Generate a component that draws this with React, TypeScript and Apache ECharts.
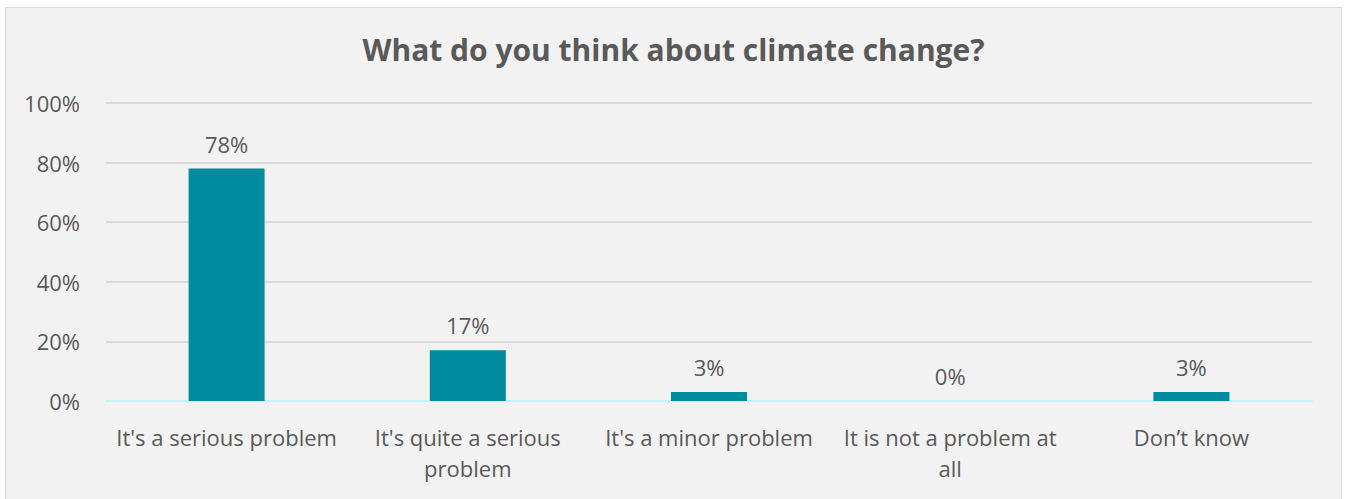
import React, { useEffect, useRef } from "react";
import * as echarts from "echarts";

const titleText = "What do you think about climate change?";
const categories = [
  "It's a serious problem",
  "It's quite a serious\nproblem",
  "It's a minor problem",
  "It is not a problem at\nall",
  "Don\u2019t know",
];
const shares = [78, 17, 3, 0, 3];
const yTicks = { min: 0, max: 100, interval: 20 };

const FONT = "'Open Sans', 'Noto Sans', sans-serif";
const TEXT = "#595959";

export default function App() {
  const ref = useRef<HTMLDivElement>(null);

  useEffect(() => {
    if (!ref.current) return;
    const chart = echarts.init(ref.current, undefined, { renderer: "svg" });
    chart.setOption({
      animation: false,
      backgroundColor: "#f2f2f2",
      textStyle: { fontFamily: FONT },
      title: {
        text: titleText,
        left: "center",
        top: 21,
        textStyle: {
          fontFamily: FONT,
          fontSize: 30,
          fontWeight: "bold",
          color: "#595959",
        },
      },
      grid: { left: 100, right: 29, top: 95, bottom: 99, containLabel: false },
      xAxis: {
        type: "category",
        data: categories,
        axisLine: { lineStyle: { color: "#c9f1f8", width: 2 } },
        axisTick: { show: false },
        axisLabel: {
          color: TEXT,
          fontSize: 22,
          lineHeight: 31,
          margin: 20,
          interval: 0,
          fontFamily: FONT,
        },
      },
      yAxis: {
        type: "value",
        min: yTicks.min,
        max: yTicks.max,
        interval: yTicks.interval,
        axisLine: { show: false },
        axisTick: { show: false },
        splitLine: { lineStyle: { color: "#d9d9d9", width: 2 } },
        axisLabel: {
          color: TEXT,
          fontSize: 22,
          margin: 26,
          fontFamily: FONT,
          formatter: (v: number) => `${v}%`,
        },
      },
      series: [
        {
          type: "bar",
          data: shares,
          barWidth: 76,
          itemStyle: { color: "#008b9e" },
          label: {
            show: true,
            position: "top",
            distance: 14,
            color: TEXT,
            fontSize: 22,
            fontFamily: FONT,
            formatter: (p: any) => `${p.value}%`,
          },
        },
      ],
    });
    return () => chart.dispose();
  }, []);

  return (
    <div
      style={{
        position: "fixed",
        left: 0,
        top: 0,
        width: 1346,
        height: 499,
        background: "#ffffff",
        overflow: "hidden",
      }}
    >
      <div
        style={{
          position: "absolute",
          left: 5,
          top: 7,
          width: 1335,
          height: 492,
          border: "1px solid #d9d9d9",
        }}
      >
        <div ref={ref} style={{ width: 1335, height: 492 }} />
      </div>
    </div>
  );
}
